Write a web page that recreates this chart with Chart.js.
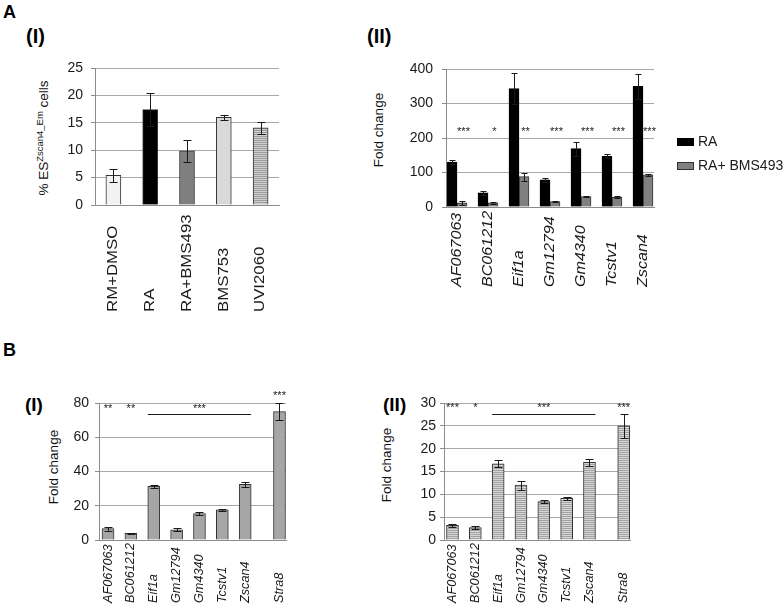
<!DOCTYPE html>
<html><head><meta charset="utf-8">
<script src="https://cdn.jsdelivr.net/npm/chart.js@4.4.1/dist/chart.umd.min.js"></script>
<style>
html,body{margin:0;padding:0;background:#fff;width:784px;height:614px;overflow:hidden;font-family:"Liberation Sans",Arial,sans-serif;}
canvas{position:absolute;left:0;top:0;}
.lbl{position:absolute;font-weight:bold;color:#000;line-height:1;white-space:nowrap;}
.ytitle{position:absolute;white-space:nowrap;transform:translate(-50%,-50%) rotate(-90deg);font-size:13.5px;color:#111;line-height:1;}
.ytitle sup{font-size:9.5px;vertical-align:0.55em;line-height:0;}
</style></head><body>
<div class="lbl" style="left:3px;top:3px;font-size:18px">A</div>
<div class="lbl" style="left:26px;top:26px;font-size:20px">(I)</div>
<div class="lbl" style="left:367px;top:26px;font-size:20px">(II)</div>
<div class="lbl" style="left:3px;top:341px;font-size:18px">B</div>
<div class="lbl" style="left:25px;top:395px;font-size:19px">(I)</div>
<div class="lbl" style="left:383px;top:395px;font-size:19px">(II)</div>
<div class="ytitle" style="left:44px;top:138px">% ES<sup>Zscan4_Em</sup> cells</div>
<div class="ytitle" style="left:379px;top:130px">Fold change</div>
<div class="ytitle" style="left:54px;top:467px">Fold change</div>
<div class="ytitle" style="left:387px;top:465px">Fold change</div>
<canvas id="cAI" width="784" height="614"></canvas>
<canvas id="cAII" width="784" height="614"></canvas>
<canvas id="cBI" width="784" height="614"></canvas>
<canvas id="cBII" width="784" height="614"></canvas>
<script>
// ---------- data ----------
const aICategories = ['RM+DMSO', 'RA', 'RA+BMS493', 'BMS753', 'UVI2060'];
const aIValues = [5.4, 17.4, 9.9, 16.0, 14.1];
const aIErrors = [1.2, 3.0, 2.0, 0.5, 1.1];
const aITicks = [0, 5, 10, 15, 20, 25];

const aIIGenes = ['AF067063', 'BC061212', 'Eif1a', 'Gm12794', 'Gm4340', 'Tcstv1', 'Zscan4'];
const aIISeries = ['RA', 'RA+ BMS493'];
const aIIRA = [130, 41, 343, 79, 169, 147, 350];
const aIIRAErr = [6, 5, 45, 6, 20, 6, 36];
const aIIBMS = [12, 12, 88, 16, 30, 28, 93];
const aIIBMSErr = [6, 3, 12, 1, 1, 3, 3];
const aIIStars = ['***', '*', '**', '***', '***', '***', '***'];
const aIITicks = [0, 100, 200, 300, 400];

const bGenes = ['AF067063', 'BC061212', 'Eif1a', 'Gm12794', 'Gm4340', 'Tcstv1', 'Zscan4', 'Stra8'];
const bIValues = [6.6, 3.9, 31.3, 6.0, 15.5, 17.6, 32.5, 75.0];
const bIErrors = [1.2, 0.3, 1.1, 0.8, 0.8, 0.6, 1.5, 4.9];
const bITicks = [0, 20, 40, 60, 80];
const bIStars = ['**', '**', '***', '***'];
const bIIValues = [3.2, 2.7, 16.7, 12.0, 8.4, 9.1, 17.0, 25.0];
const bIIErrors = [0.3, 0.3, 0.8, 1.0, 0.3, 0.4, 0.8, 2.7];
const bIITicks = [0, 5, 10, 15, 20, 25, 30];
const bIIStars = ['***', '*', '***', '***'];

// ---------- helpers ----------
const FONT = '"Liberation Sans", Arial, sans-serif';
Chart.defaults.font.family = FONT;
Chart.defaults.color = '#1a1a1a';

function stripes(base, line) {
  const c = document.createElement('canvas');
  c.width = 4; c.height = 2;
  const g = c.getContext('2d');
  g.fillStyle = base; g.fillRect(0, 0, 4, 2);
  g.fillStyle = line; g.fillRect(0, 0, 4, 1);
  return g.createPattern(c, 'repeat');
}
// category slot of each bar (Stra8 placed after a half-slot gap)
function slot(i, n, gapLast) { return i + (gapLast && i === n - 1 ? 0.5 : 0); }
function pts(values, gapLast) { return values.map((v, i) => ({ x: slot(i, values.length, gapLast), y: v })); }

const overlay = {
  id: 'overlay',
  afterDatasetsDraw(chart, args, o) {
    const ctx = chart.ctx, xs = chart.scales.x, ys = chart.scales.y;
    ctx.save();
    // error bars
    chart.data.datasets.forEach((ds, di) => {
      if (!ds.errors) return;
      const meta = chart.getDatasetMeta(di);
      meta.data.forEach((bar, i) => {
        const v = ds.data[i].y, e = ds.errors[i];
        const x = Math.round(bar.x) + 0.5;
        const yt = Math.round(ys.getPixelForValue(v + e)) + 0.5;
        const yb = Math.round(ys.getPixelForValue(v - e)) + 0.5;
        ctx.strokeStyle = '#1a1a1a'; ctx.lineWidth = 1;
        ctx.beginPath();
        ctx.moveTo(x, yb); ctx.lineTo(x, yt);
        ctx.moveTo(x - o.cap, yt); ctx.lineTo(x + o.cap, yt);
        ctx.moveTo(x - o.cap, yb); ctx.lineTo(x + o.cap, yb);
        ctx.stroke();
      });
    });
    // category labels, rotated, aligned at bottom
    ctx.fillStyle = '#1a1a1a';
    ctx.font = o.labelFont;
    o.labels.forEach((t, i) => {
      const x = xs.getPixelForValue(slot(i, o.labels.length, o.gapLast));
      ctx.save();
      ctx.translate(x + o.labelDx, o.labelBottom);
      ctx.rotate(-Math.PI / 2);
      ctx.scale(o.labelStretch || 1, 1);
      ctx.textAlign = 'left'; ctx.textBaseline = 'middle';
      ctx.fillText(t, 0, 0);
      ctx.restore();
    });
    // significance marks
    ctx.font = '11px ' + FONT;
    ctx.textAlign = 'center'; ctx.textBaseline = 'middle';
    (o.marks || []).forEach(m => {
      ctx.fillText(m.t, xs.getPixelForValue(m.x), ys.getPixelForValue(m.y));
    });
    (o.lines || []).forEach(l => {
      const y = Math.round(ys.getPixelForValue(l.y)) + 0.5;
      ctx.beginPath();
      ctx.moveTo(xs.getPixelForValue(l.x0), y); ctx.lineTo(xs.getPixelForValue(l.x1), y);
      ctx.strokeStyle = '#1a1a1a'; ctx.lineWidth = 1; ctx.stroke();
    });
    // legend
    if (o.legend) {
      const L = o.legend;
      ctx.font = L.font; ctx.textAlign = 'left'; ctx.textBaseline = 'middle';
      chart.data.datasets.forEach((ds, di) => {
        const cy = L.y + di * L.dy;
        ctx.fillStyle = ds.backgroundColor;
        ctx.fillRect(L.x, cy - L.h / 2, L.w, L.h);
        ctx.strokeStyle = ds.borderColor; ctx.lineWidth = 1;
        ctx.strokeRect(L.x + 0.5, cy - L.h / 2 + 0.5, L.w - 1, L.h - 1);
        ctx.fillStyle = '#1a1a1a';
        ctx.fillText(ds.label, L.x + L.w + 4, cy);
      });
    }
    ctx.restore();
  }
};

function makeChart(id, cfg) {
  const yW = 60;
  return new Chart(document.getElementById(id), {
    type: 'bar',
    data: { datasets: cfg.datasets },
    options: {
      responsive: false, animation: false, devicePixelRatio: 1,
      layout: { padding: { left: cfg.area.left - yW, top: cfg.area.top, right: 784 - cfg.area.right, bottom: 614 - cfg.area.bottom } },
      plugins: { legend: { display: false }, tooltip: { enabled: false }, overlay: cfg.overlay },
      scales: {
        x: {
          type: 'linear', min: cfg.xmin, max: cfg.xmax, offset: false,
          grid: { display: false, offset: false },
          border: { display: true, color: '#8c8c8c', width: 1 },
          ticks: { display: false },
          afterFit: s => { s.height = 0; }
        },
        y: {
          type: 'linear', min: cfg.ticks[0], max: cfg.ticks[cfg.ticks.length - 1],
          afterBuildTicks: s => { s.ticks = cfg.ticks.map(v => ({ value: v })); },
          grid: { color: '#a8a8a8', lineWidth: 1, tickLength: 4, tickColor: '#8c8c8c' },
          border: { display: true, color: '#8c8c8c', width: 1 },
          ticks: { font: { size: 14 }, color: '#1a1a1a', padding: cfg.tickPad },
          afterFit: s => { s.width = yW; }
        }
      }
    },
    plugins: [overlay]
  });
}

// ---------- A (I) ----------
makeChart('cAI', {
  area: { left: 95, top: 68, right: 279, bottom: 205 },
  xmin: -0.5, xmax: 4.5, ticks: aITicks, tickPad: 8,
  datasets: [{
    data: pts(aIValues), errors: aIErrors,
    backgroundColor: ['#f2f2f2', '#000000', '#7f7f7f', '#d9d9d9', stripes('#d0d0d0', '#9c9c9c')],
    borderColor: '#333333', borderWidth: 1, barThickness: 15
  }],
  overlay: { cap: 4, labels: aICategories, labelFont: '14px ' + FONT, labelStretch: 1.2, labelBottom: 312, labelDx: 0 }
});

// ---------- A (II) ----------
makeChart('cAII', {
  area: { left: 446, top: 69, right: 654, bottom: 207 },
  xmin: -0.355, xmax: 6.355, ticks: aIITicks, tickPad: 9,
  datasets: [
    { label: aIISeries[0], data: pts(aIIRA), errors: aIIRAErr, backgroundColor: '#000000', borderColor: '#000000', borderWidth: 1, barThickness: 10 },
    { label: aIISeries[1], data: pts(aIIBMS), errors: aIIBMSErr, backgroundColor: '#808080', borderColor: '#333333', borderWidth: 1, barThickness: 10 }
  ],
  overlay: {
    cap: 3, labels: aIIGenes, labelFont: 'italic 14px ' + FONT, labelStretch: 1.15, labelBottom: 287, labelDx: 0,
    marks: aIIStars.map((t, i) => ({ t, x: i + 0.21, y: 217 })),
    legend: { x: 677, y: 142, dy: 24, w: 17, h: 8, font: '14px ' + FONT }
  }
});

// ---------- B (I) ----------
makeChart('cBI', {
  area: { left: 99, top: 403, right: 286, bottom: 540 },
  xmin: -0.395, xmax: 7.785, ticks: bITicks, tickPad: 6,
  datasets: [{ data: pts(bIValues, true), errors: bIErrors, backgroundColor: '#a6a6a6', borderColor: '#333333', borderWidth: 1, barThickness: 12 }],
  overlay: {
    cap: 4, labels: bGenes, gapLast: true, labelFont: 'italic 12.7px ' + FONT, labelBottom: 603, labelDx: 0,
    marks: [{ t: bIStars[0], x: 0, y: 76.5 }, { t: bIStars[1], x: 1, y: 76.5 }, { t: bIStars[2], x: 4, y: 76.5 }, { t: bIStars[3], x: 7.5, y: 84 }],
    lines: [{ x0: 1.74, x1: 6.26, y: 73.6 }]
  }
});

// ---------- B (II) ----------
makeChart('cBII', {
  area: { left: 444, top: 403, right: 630, bottom: 540 },
  xmin: -0.372, xmax: 7.775, ticks: bIITicks, tickPad: 4,
  datasets: [{ data: pts(bIIValues, true), errors: bIIErrors, backgroundColor: stripes('#d6d6d6', '#a3a3a3'), borderColor: '#333333', borderWidth: 1, barThickness: 12 }],
  overlay: {
    cap: 4, labels: bGenes, gapLast: true, labelFont: 'italic 12.7px ' + FONT, labelBottom: 603, labelDx: 0,
    marks: [{ t: bIIStars[0], x: 0, y: 28.9 }, { t: bIIStars[1], x: 1, y: 28.9 }, { t: bIIStars[2], x: 4, y: 28.9 }, { t: bIIStars[3], x: 7.5, y: 28.9 }],
    lines: [{ x0: 1.74, x1: 6.26, y: 27.6 }]
  }
});
</script>
</body></html>
